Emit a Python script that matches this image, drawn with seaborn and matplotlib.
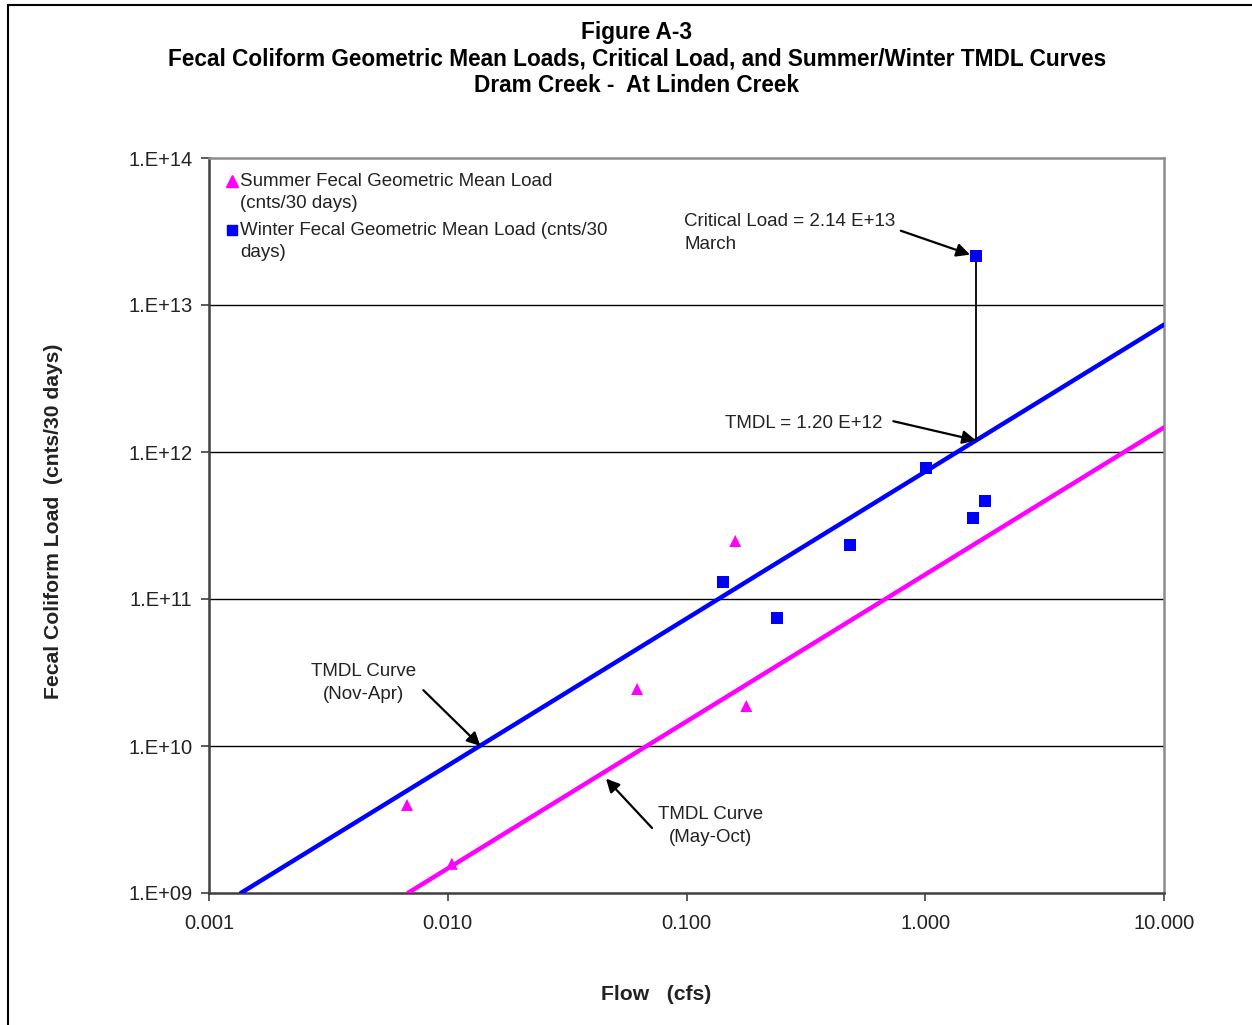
import math
import matplotlib
matplotlib.use("Agg")
import matplotlib.pyplot as plt
from matplotlib.ticker import FixedLocator, FuncFormatter, NullLocator
from matplotlib.lines import Line2D
from matplotlib.legend_handler import HandlerLine2D
from matplotlib.patches import Rectangle
import pandas as pd
import seaborn as sns

# Geometric mean loads (cnts/30 days) against flow (cfs)
summer_flow = [0.00675, 0.0104, 0.0621, 0.160, 0.178]
summer_load = [3.97e9, 1.58e9, 2.44e10, 2.48e11, 1.87e10]
winter_flow = [0.142, 0.239, 0.484, 1.007, 1.585, 1.78]
winter_load = [1.31e11, 7.43e10, 2.33e11, 7.78e11, 3.56e11, 4.64e11]

# Critical (March) winter sample and the TMDL at that flow
critical_flow = 1.63
critical_load = 2.14e13
tmdl_at_critical = 1.20e12

# TMDL curves (straight lines on log-log axes)
winter_curve_flow = [0.00136, 10.0]
winter_curve_load = [1.0e9, 7.35e12]
summer_curve_flow = [0.00681, 10.0]
summer_curve_load = [1.0e9, 1.468e12]

x_ticks = [0.001, 0.01, 0.1, 1.0, 10.0]
y_ticks = [1e9, 1e10, 1e11, 1e12, 1e13, 1e14]

BLUE = "#0000FF"
MAGENTA = "#FF00FF"
TEXT = "#222222"

sns.set_style("white")
plt.rcParams["font.family"] = ["Liberation Sans", "DejaVu Sans"]

W, H = 1252, 1025
fig = plt.figure(figsize=(W / 100, H / 100), dpi=100)
ax = fig.add_axes([209 / W, 1 - 893 / H, (1164 - 209) / W, (893 - 158) / H])

ax.set_xscale("log")
ax.set_yscale("log")
ax.set_xlim(0.001, 10)
ax.set_ylim(1e9, 1e14)

# horizontal gridlines at each decade
for yv in y_ticks[1:-1]:
    ax.axhline(yv, color="black", lw=1.0, zorder=1)

curves = pd.DataFrame({
    "flow": winter_curve_flow + summer_curve_flow,
    "load": winter_curve_load + summer_curve_load,
    "curve": ["winter"] * 2 + ["summer"] * 2,
})
sns.lineplot(data=curves, x="flow", y="load", hue="curve",
             palette={"winter": BLUE, "summer": MAGENTA},
             lw=3.2, legend=False, ax=ax, zorder=3, estimator=None, sort=False)

points = pd.DataFrame({
    "flow": summer_flow + winter_flow + [critical_flow],
    "load": summer_load + winter_load + [critical_load],
    "season": ["summer"] * len(summer_flow) + ["winter"] * (len(winter_flow) + 1),
})
sns.scatterplot(data=points, x="flow", y="load", hue="season", style="season",
                palette={"summer": MAGENTA, "winter": BLUE},
                markers={"summer": "^", "winter": "s"},
                s=75, linewidth=0, legend=False, ax=ax, zorder=5)

# critical load drop line
ax.plot([critical_flow, critical_flow], [critical_load, tmdl_at_critical],
        color="black", lw=1.3, zorder=4)

arrow = dict(arrowstyle="-|>", color="black", lw=1.6, mutation_scale=20,
             shrinkA=0, shrinkB=0)
txt = dict(fontsize=13.5, color=TEXT)

ax.text(0.0977, 3.09e13, "Critical Load = 2.14 E+13\nMarch", ha="left", va="center",
        linespacing=1.4, **txt)
ax.annotate("", xy=(1.54, 2.2e13), xytext=(0.79, 3.2e13), arrowprops=arrow, zorder=6)

ax.text(0.145, 1.57e12, "TMDL = 1.20 E+12", ha="left", va="center", **txt)
ax.annotate("", xy=(critical_flow, tmdl_at_critical), xytext=(0.735, 1.62e12),
            arrowprops=arrow, zorder=6)

ax.text(0.00442, 2.68e10, "TMDL Curve\n(Nov-Apr)", ha="center", va="center",
        linespacing=1.4, **txt)
ax.annotate("", xy=(0.0137, 1.0e10), xytext=(0.0079, 2.4e10), arrowprops=arrow, zorder=6)

ax.text(0.1266, 2.86e9, "TMDL Curve\n(May-Oct)", ha="center", va="center",
        linespacing=1.4, **txt)
ax.annotate("", xy=(0.046, 6.0e9), xytext=(0.0717, 2.77e9), arrowprops=arrow, zorder=6)

# axes styling
ax.xaxis.set_major_locator(FixedLocator(x_ticks))
ax.xaxis.set_minor_locator(NullLocator())
ax.xaxis.set_major_formatter(FuncFormatter(lambda v, p: f"{v:.3f}"))
ax.yaxis.set_major_locator(FixedLocator(y_ticks))
ax.yaxis.set_minor_locator(NullLocator())
ax.yaxis.set_major_formatter(FuncFormatter(lambda v, p: f"1.E+{int(round(math.log10(v))):02d}"))
ax.tick_params(axis="both", which="major", direction="out", length=6, width=1.2,
               color="#404040", labelsize=14.5, labelcolor=TEXT, pad=6)
ax.tick_params(axis="x", pad=9)
ax.tick_params(left=True, bottom=True)
for side in ("left", "bottom"):
    ax.spines[side].set_color("#404040")
    ax.spines[side].set_linewidth(1.8)
for side in ("top", "right"):
    ax.spines[side].set_color("#8c8c8c")
    ax.spines[side].set_linewidth(1.8)
ax.set_xlabel("")
ax.set_ylabel("")


class FirstLineMarker(HandlerLine2D):
    """Place the legend marker beside the first line of a two-line label."""

    def __init__(self, shift, **kw):
        super().__init__(**kw)
        self.shift = shift

    def create_artists(self, legend, orig_handle, xdescent, ydescent, width, height,
                       fontsize, trans):
        arts = super().create_artists(legend, orig_handle, xdescent, ydescent, width,
                                      height, fontsize, trans)
        for a in arts:
            a.set_ydata([y + self.shift for y in a.get_ydata()])
        return arts


# legend
summer_handle = Line2D([], [], marker="^", color=MAGENTA, ls="none", markersize=8.5)
winter_handle = Line2D([], [], marker="s", color=BLUE, ls="none", markersize=7.5)
labels = ["Summer Fecal Geometric Mean Load\n(cnts/30 days)",
          "Winter Fecal Geometric Mean Load (cnts/30\ndays)"]
leg = ax.legend([summer_handle, winter_handle], labels, loc="upper left",
                bbox_to_anchor=(0.016, 0.980),
                handler_map={summer_handle: FirstLineMarker(8.2),
                             winter_handle: FirstLineMarker(8.2)},
                frameon=False, fontsize=13.5, handlelength=0.8, handletextpad=0.05,
                borderpad=0, borderaxespad=0, labelspacing=0.55)
for t in leg.get_texts():
    t.set_color(TEXT)
    t.set_linespacing(1.4)

# titles and axis labels
title_kw = dict(ha="center", va="center", fontsize=16.3, fontweight="bold", color="black")
fig.text(637 / W, 1 - 33 / H, "Figure A-3", **title_kw)
fig.text(637 / W, 1 - 59 / H,
         "Fecal Coliform Geometric Mean Loads, Critical Load, and Summer/Winter TMDL Curves",
         **title_kw)
fig.text(637 / W, 1 - 85 / H, "Dram Creek -  At Linden Creek", **title_kw)
fig.text(656 / W, 1 - 995 / H, "Flow   (cfs)", ha="center", va="center",
         fontsize=15.2, fontweight="bold", color=TEXT)
fig.text(54 / W, 1 - 521 / H, "Fecal Coliform Load  (cnts/30 days)", ha="center",
         va="center", rotation=90, fontsize=15.2, fontweight="bold", color=TEXT)

# page frame
fig.add_artist(Rectangle((8 / W, -0.05), 1.2, 1.05 - 5 / H, transform=fig.transFigure,
                         fill=False, ec="black", lw=1.5))

fig.savefig("out.png", dpi=100)
